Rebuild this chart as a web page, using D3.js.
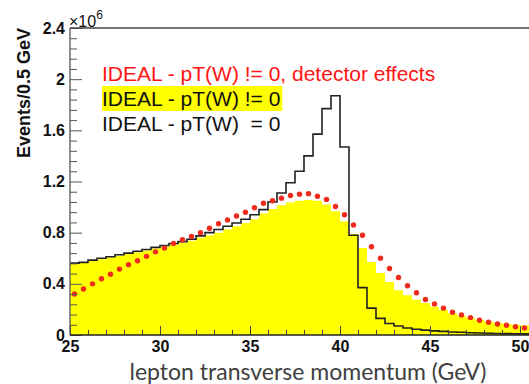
<!DOCTYPE html>
<meta charset="utf-8">
<head>
	<title>lepton pT</title>
</head>
<style>
body{
	margin: 0;
	background: #fff;
}
svg{
	display: block;
}
.tick text{
	font-family: "Liberation Sans", Arial, sans-serif;
	font-weight: bold;
	font-size: 16px;
	fill: #111;
}
.legend{
	font-family: "Liberation Sans", Arial, sans-serif;
	font-size: 21px;
}
</style>
<body>
<svg width="529" height="384"></svg>

<script src="https://cdnjs.cloudflare.com/ajax/libs/d3/7.8.5/d3.min.js"></script>
<script>

// 0.5 GeV bins from 25 to 50.5
var binLow = 25;
var binWidth = 0.5;

// pT(W) = 0 (black outline), in units of 10^6
var ideal = [0.562, 0.568, 0.585, 0.600, 0.612, 0.627, 0.640, 0.655, 0.668, 0.685,
	0.700, 0.715, 0.730, 0.748, 0.775, 0.800, 0.825, 0.850, 0.875, 0.905,
	0.940, 0.980, 1.040, 1.110, 1.190, 1.280, 1.400, 1.570, 1.770, 1.870,
	1.470, 0.780, 0.370, 0.210, 0.130, 0.090, 0.070, 0.055, 0.045, 0.038,
	0.032, 0.028, 0.024, 0.021, 0.018, 0.016, 0.014, 0.012, 0.011, 0.010, 0.009];

// pT(W) != 0 (yellow fill)
var withPtW = [0.555, 0.562, 0.578, 0.593, 0.605, 0.620, 0.633, 0.647, 0.660, 0.676,
	0.690, 0.705, 0.720, 0.737, 0.760, 0.780, 0.800, 0.825, 0.850, 0.875,
	0.905, 0.950, 0.985, 1.015, 1.035, 1.050, 1.055, 1.050, 1.020, 0.967,
	0.890, 0.790, 0.680, 0.570, 0.485, 0.415, 0.350, 0.310, 0.275, 0.250,
	0.220, 0.195, 0.170, 0.150, 0.135, 0.120, 0.105, 0.095, 0.088, 0.080, 0.075];

// pT(W) != 0 with detector effects (red dots)
var detector = [0.320, 0.360, 0.400, 0.440, 0.475, 0.515, 0.550, 0.580, 0.615, 0.650,
	0.680, 0.715, 0.745, 0.770, 0.800, 0.835, 0.870, 0.900, 0.930, 0.960,
	0.995, 1.030, 1.050, 1.070, 1.090, 1.100, 1.105, 1.085, 1.060, 1.005,
	0.940, 0.860, 0.780, 0.690, 0.600, 0.520, 0.450, 0.385, 0.330, 0.278,
	0.243, 0.210, 0.178, 0.157, 0.136, 0.115, 0.100, 0.086, 0.076, 0.065, 0.055];

var xMajor = [25, 30, 35, 40, 45, 50];
var yMajor = [0, 0.4, 0.8, 1.2, 1.6, 2, 2.4];
var legendLines = [
	{text: 'IDEAL - pT(W) != 0, detector effects', color: '#ff1414', bg: null},
	{text: 'IDEAL - pT(W) != 0', color: '#111', bg: '#ffff00'},
	{text: 'IDEAL - pT(W) \u00a0= 0', color: '#111', bg: null}
];

var svg = d3.select('svg');

var x = d3.scaleLinear().domain([25, 50.5]).range([70, 529]);
var y = d3.scaleLinear().domain([0, 2.4]).range([335, 28]);

function edge(i){
	return binLow + i * binWidth;
}

// yellow filled histogram
var stepPts = withPtW.map(function(d, i){ return [edge(i), d]; });
stepPts.push([edge(withPtW.length), withPtW[withPtW.length-1]]);

svg.append('path')
	.datum(stepPts)
	.attr('fill', '#ffff00')
	.attr('d', d3.area()
		.curve(d3.curveStepAfter)
		.x(function(d){ return x(d[0]); })
		.y0(y(0))
		.y1(function(d){ return y(d[1]); }));

// black outline histogram
var linePts = ideal.map(function(d, i){ return [edge(i), d]; });
linePts.push([edge(ideal.length), ideal[ideal.length-1]]);

svg.append('path')
	.datum(linePts)
	.attr('fill', 'none')
	.attr('stroke', '#222')
	.attr('stroke-width', 1.6)
	.attr('d', d3.line()
		.curve(d3.curveStepAfter)
		.x(function(d){ return x(d[0]); })
		.y(function(d){ return y(d[1]); }));

// red dots
svg.append('g')
	.selectAll('circle')
	.data(detector)
	.enter()
	.append('circle')
	.attr('cx', function(d, i){ return x(edge(i) + binWidth/2); })
	.attr('cy', function(d){ return y(d); })
	.attr('r', 2.7)
	.attr('fill', '#ee2b1c');

// axes
var xMinor = d3.range(26, 51, 1).filter(function(v){ return v % 5 !== 0; });
var yMinor = d3.range(1, 30).map(function(k){ return +(k*0.08).toFixed(2); })
	.filter(function(v){ return yMajor.indexOf(v) < 0; });

var gx = svg.append('g').attr('transform', 'translate(0,' + y(0) + ')');
gx.call(d3.axisBottom(x).tickValues(xMajor).tickSize(-9).tickPadding(5)
	.tickFormat(d3.format('d')));
gx.append('g').call(d3.axisBottom(x).tickValues(xMinor).tickSize(-5).tickFormat(''));
gx.selectAll('.domain').remove();
gx.selectAll('.tick line').attr('stroke', '#444');
gx.selectAll('.tick text').attr('y', 6).attr('dy', '0.71em');

var gy = svg.append('g').attr('transform', 'translate(' + x(25) + ',0)');
gy.call(d3.axisLeft(y).tickValues(yMajor).tickSize(-12).tickPadding(5)
	.tickFormat(d3.format('')));
gy.append('g').call(d3.axisLeft(y).tickValues(yMinor).tickSize(-7).tickFormat(''));
gy.selectAll('.domain').remove();
gy.selectAll('.tick line').attr('stroke', '#555');

// frame
svg.append('line')
	.attr('x1', x(25)).attr('x2', 529)
	.attr('y1', y(2.4)).attr('y2', y(2.4))
	.attr('stroke', '#444').attr('stroke-width', 1.5);
svg.append('line')
	.attr('x1', x(25)).attr('x2', x(25))
	.attr('y1', y(2.4)).attr('y2', y(0))
	.attr('stroke', '#555').attr('stroke-width', 1.3);
svg.append('line')
	.attr('x1', x(25)).attr('x2', 529)
	.attr('y1', y(0)).attr('y2', y(0))
	.attr('stroke', '#222').attr('stroke-width', 1.5);

// x10^6
var expo = svg.append('text')
	.attr('x', 69).attr('y', 27)
	.style('font-family', '"Liberation Sans", Arial, sans-serif')
	.style('font-size', '16px')
	.attr('fill', '#111');
expo.append('tspan').text('\u00d710');
expo.append('tspan').attr('dy', -8).style('font-size', '12px').text('6');

// axis titles
svg.append('text')
	.attr('transform', 'translate(30,93) rotate(-90)')
	.attr('text-anchor', 'middle')
	.style('font-family', '"Liberation Sans", Arial, sans-serif')
	.style('font-weight', 'bold')
	.style('font-size', '18px')
	.attr('fill', '#111')
	.text('Events/0.5 GeV');

svg.append('text')
	.attr('x', 308).attr('y', 380)
	.attr('text-anchor', 'middle')
	.style('font-family', 'Lato, sans-serif')
	.style('font-size', '23px')
	.attr('fill', '#404040')
	.text('lepton transverse momentum (GeV)');

// legend
var leg = svg.append('g').attr('class', 'legend');
legendLines.forEach(function(l, i){
	var t = leg.append('text')
		.attr('x', 102)
		.attr('y', 81 + i*25)
		.attr('fill', l.color)
		.text(l.text);
	if(l.bg){
		var bb = t.node().getBBox();
		leg.insert('rect', 'text')
			.attr('x', bb.x).attr('y', 86)
			.attr('width', bb.width + 2).attr('height', 25)
			.attr('fill', l.bg);
	}
});

</script>
</body>
</html>
